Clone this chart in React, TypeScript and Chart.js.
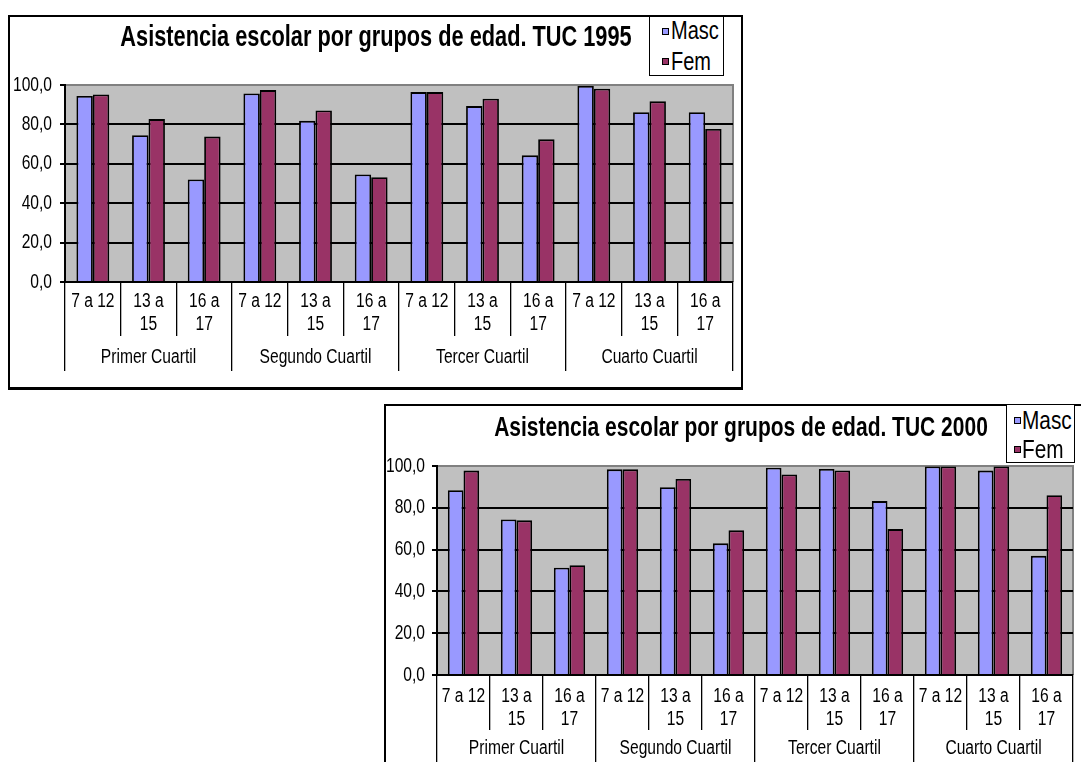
import React, { useEffect, useRef } from 'react';
import { Chart, registerables } from 'chart.js';

Chart.register(...registerables);

// ---------- DATA ----------
const ageGroups: string[][] = [['7 a 12'], ['13 a', '15'], ['16 a', '17']];
const quartiles: string[] = ['Primer Cuartil', 'Segundo Cuartil', 'Tercer Cuartil', 'Cuarto Cuartil'];
const seriesNames: string[] = ['Masc', 'Fem'];
const yTickValues: number[] = [0, 20, 40, 60, 80, 100];

const masc1995: number[] = [94.4, 74.5, 52.0, 95.7, 81.8, 54.6, 96.4, 89.3, 64.3, 99.5, 86.2, 86.2];
const fem1995: number[] = [95.2, 82.7, 73.8, 97.4, 87.1, 53.2, 96.4, 93.0, 72.4, 98.1, 91.7, 77.7];
const masc2000: number[] = [88.4, 74.4, 51.3, 98.4, 89.8, 63.0, 99.2, 98.6, 83.2, 99.8, 97.8, 57.0];
const fem2000: number[] = [97.8, 74.0, 52.5, 98.4, 93.8, 69.2, 95.9, 97.9, 69.8, 99.8, 99.8, 86.0];

const title1995 = 'Asistencia escolar por grupos de edad. TUC 1995';
const title2000 = 'Asistencia escolar por grupos de edad. TUC 2000';

// ---------- STYLE ----------
const FONT = "'Liberation Sans', Arial, sans-serif";
const MASC_COLOR = '#9999FF';
const FEM_COLOR = '#993366';
const PLOT_BG = '#C0C0C0';
const NARROW = 0.78; // horizontal squeeze to imitate a narrow face
const NARROW_BOLD = 0.75;
const NARROW_LEGEND = 0.8;

const categoryLabels: string[][] = quartiles.flatMap(() => ageGroups);

type Spec = {
  title: string;
  masc: number[];
  fem: number[];
  box: { left: number; top: number; width: number; height: number };
  canvasW: number;
  canvasH: number;
  titleSize: number;
  titleLH: number;
  titlePadTop: number;
  titleShift: number;
  plotLeft: number;
  plotTop: number;
  padRight: number;
  padBottom: number;
  x1H: number;
  x2H: number;
  x1Pad: number;
  x2Pad: number;
  yPad: number;
  legend: { left: number; top: number; width: number; height: number; markX: number; textX: number; rows: number[]; font: number };
};

// Make canvas text narrow (like Arial Narrow) by squeezing it horizontally.
function condenseContext(ctx: any) {
  if (!ctx || ctx.__condensed) return;
  ctx.__condensed = true;
  const fill = ctx.fillText.bind(ctx);
  const measure = ctx.measureText.bind(ctx);
  const factor = () => (/bold/.test(ctx.font) ? NARROW_BOLD : NARROW);
  ctx.fillText = (text: string, x: number, y: number, maxWidth?: number) => {
    const k = factor();
    ctx.save();
    ctx.translate(x, y);
    ctx.scale(k, 1);
    if (maxWidth === undefined) fill(text, 0, 0);
    else fill(text, 0, 0, maxWidth / k);
    ctx.restore();
  };
  ctx.measureText = (text: string) => {
    const m = measure(text);
    const k = factor();
    return {
      width: m.width * k,
      actualBoundingBoxAscent: m.actualBoundingBoxAscent,
      actualBoundingBoxDescent: m.actualBoundingBoxDescent,
      actualBoundingBoxLeft: m.actualBoundingBoxLeft * k,
      actualBoundingBoxRight: m.actualBoundingBoxRight * k,
    };
  };
}

const plotBg = {
  id: 'plotBg',
  afterLayout(chart: any, _args: any, opts: any) {
    const t = chart.titleBlock;
    if (t && opts && opts.titleShift) {
      t.left += opts.titleShift;
      t.right += opts.titleShift;
    }
  },
  beforeDraw(chart: any) {
    const { ctx, chartArea } = chart;
    const { left, top, right, bottom } = chartArea;
    ctx.save();
    ctx.fillStyle = PLOT_BG;
    ctx.fillRect(left, top, right - left, bottom - top);
    ctx.strokeStyle = '#808080';
    ctx.lineWidth = 2;
    ctx.beginPath();
    ctx.moveTo(left, top);
    ctx.lineTo(right, top);
    ctx.lineTo(right, bottom);
    ctx.stroke();
    ctx.restore();
  },
};

function buildConfig(s: Spec): any {
  const tickFont = { family: FONT, size: 20, lineHeight: '23px' };
  const barCommon = {
    borderColor: '#000',
    borderWidth: 1.8,
    categoryPercentage: 0.59,
    barPercentage: 1,
    xAxisID: 'x',
    yAxisID: 'y',
  };
  return {
    type: 'bar',
    data: {
      labels: categoryLabels,
      datasets: [
        { ...barCommon, label: seriesNames[0], data: s.masc, backgroundColor: MASC_COLOR },
        { ...barCommon, label: seriesNames[1], data: s.fem, backgroundColor: FEM_COLOR },
      ],
    },
    options: {
      animation: false,
      responsive: false,
      devicePixelRatio: 1,
      layout: { padding: { left: 0, top: 0, right: s.padRight, bottom: s.padBottom } },
      plugins: {
        legend: { display: false },
        tooltip: { enabled: false },
        plotBg: { titleShift: s.titleShift },
        title: {
          display: true,
          text: s.title,
          color: '#000',
          font: { family: FONT, size: s.titleSize, weight: 'bold', lineHeight: s.titleLH + 'px' },
          padding: { top: s.titlePadTop, bottom: s.plotTop - s.titleLH - s.titlePadTop },
        },
      },
      scales: {
        x: {
          type: 'category',
          position: 'bottom',
          offset: true,
          weight: 0,
          grid: {
            display: true,
            drawOnChartArea: false,
            drawTicks: true,
            tickLength: s.x1H,
            color: '#000',
            lineWidth: 1.3,
            offset: true,
          },
          border: { display: true, color: '#000', width: 2 },
          ticks: {
            color: '#000',
            font: tickFont,
            padding: s.x1Pad,
            maxRotation: 0,
            minRotation: 0,
            autoSkip: false,
          },
          afterFit: (scale: any) => {
            scale.height = s.x1H;
          },
        },
        x2: {
          type: 'category',
          position: 'bottom',
          labels: quartiles,
          offset: true,
          weight: 1,
          grid: {
            display: true,
            drawOnChartArea: false,
            drawTicks: true,
            tickLength: s.x2H,
            color: '#000',
            lineWidth: 1.3,
            offset: true,
          },
          border: { display: false },
          ticks: {
            color: '#000',
            font: tickFont,
            padding: s.x2Pad,
            maxRotation: 0,
            minRotation: 0,
            autoSkip: false,
          },
          afterFit: (scale: any) => {
            scale.height = s.x2H;
          },
        },
        y: {
          type: 'linear',
          min: 0,
          max: 100,
          afterBuildTicks: (scale: any) => {
            scale.ticks = yTickValues.map((v) => ({ value: v }));
          },
          ticks: {
            color: '#000',
            font: { family: FONT, size: 20 },
            padding: s.yPad,
            callback: (v: any) => Number(v).toFixed(1).replace('.', ','),
          },
          grid: {
            color: (ctx: any) => (ctx.tick && ctx.tick.value === 100 ? 'rgba(0,0,0,0)' : '#000'),
            lineWidth: 2,
            tickLength: 5,
            tickColor: '#000',
            drawTicks: true,
          },
          border: { display: true, color: '#000', width: 2 },
          afterFit: (scale: any) => {
            scale.width = s.plotLeft;
          },
        },
      },
    },
    plugins: [plotBg],
  };
}

function Legend({ s }: { s: Spec }) {
  const L = s.legend;
  const colors = [MASC_COLOR, FEM_COLOR];
  return (
    <div
      style={{
        position: 'absolute',
        left: L.left,
        top: L.top,
        width: L.width,
        height: L.height,
        boxSizing: 'border-box',
        border: '1px solid #000',
        background: '#fff',
      }}
    >
      {seriesNames.map((name, i) => (
        <React.Fragment key={name}>
          <div
            style={{
              position: 'absolute',
              left: L.markX - 1,
              top: L.rows[i] - 3,
              width: 7,
              height: 7,
              boxSizing: 'border-box',
              border: '1px solid #000',
              background: colors[i],
            }}
          />
          <div
            style={{
              position: 'absolute',
              left: L.textX - 1,
              top: L.rows[i] - L.font / 2,
              fontFamily: FONT,
              fontSize: L.font,
              lineHeight: L.font + 'px',
              color: '#000',
              whiteSpace: 'nowrap',
              transform: `scaleX(${NARROW_LEGEND})`,
              transformOrigin: 'left center',
            }}
          >
            {name}
          </div>
        </React.Fragment>
      ))}
    </div>
  );
}

function BarPanel({ s }: { s: Spec }) {
  const ref = useRef<HTMLCanvasElement>(null);
  useEffect(() => {
    const canvas = ref.current as HTMLCanvasElement;
    condenseContext(canvas.getContext('2d'));
    const chart = new Chart(canvas, buildConfig(s));
    return () => chart.destroy();
  }, []);
  return (
    <>
      <div
        style={{
          position: 'absolute',
          left: s.box.left,
          top: s.box.top,
          width: s.box.width,
          height: s.box.height,
          borderTop: '2px solid #000',
          borderLeft: '2px solid #000',
          borderRight: '2px solid #000',
          borderBottom: '3px solid #000',
          background: '#fff',
        }}
      >
        <canvas
          ref={ref}
          width={s.canvasW}
          height={s.canvasH}
          style={{ display: 'block', width: s.canvasW, height: s.canvasH }}
        />
      </div>
      <Legend s={s} />
    </>
  );
}

const spec1995: Spec = {
  title: title1995,
  masc: masc1995,
  fem: fem1995,
  box: { left: 8, top: 15, width: 731, height: 370 },
  canvasW: 731,
  canvasH: 370,
  titleSize: 29,
  titleLH: 34,
  titlePadTop: 4,
  titleShift: 4.5,
  plotLeft: 55,
  plotTop: 68,
  padRight: 8,
  padBottom: 16,
  x1H: 54,
  x2H: 35,
  x1Pad: -46.5,
  x2Pad: -25.5,
  yPad: 8,
  legend: { left: 649, top: 16, width: 75, height: 60, markX: 13, textX: 22, rows: [13.5, 44], font: 25 },
};

const spec2000: Spec = {
  title: title2000,
  masc: masc2000,
  fem: fem2000,
  box: { left: 384, top: 404, width: 710, height: 380 },
  canvasW: 710,
  canvasH: 380,
  titleSize: 28,
  titleLH: 32,
  titlePadTop: 6,
  titleShift: 11.5,
  plotLeft: 51,
  plotTop: 60,
  padRight: 23,
  padBottom: 20,
  x1H: 55,
  x2H: 36,
  x1Pad: -45.5,
  x2Pad: -29.5,
  yPad: 7,
  legend: { left: 1006, top: 404, width: 69, height: 59, markX: 8, textX: 16, rows: [15, 44], font: 26 },
};

export default function App() {
  return (
    <div
      style={{
        position: 'absolute',
        left: 0,
        top: 0,
        width: 1081,
        height: 762,
        overflow: 'hidden',
        background: '#fff',
      }}
    >
      <BarPanel s={spec1995} />
      <BarPanel s={spec2000} />
    </div>
  );
}
